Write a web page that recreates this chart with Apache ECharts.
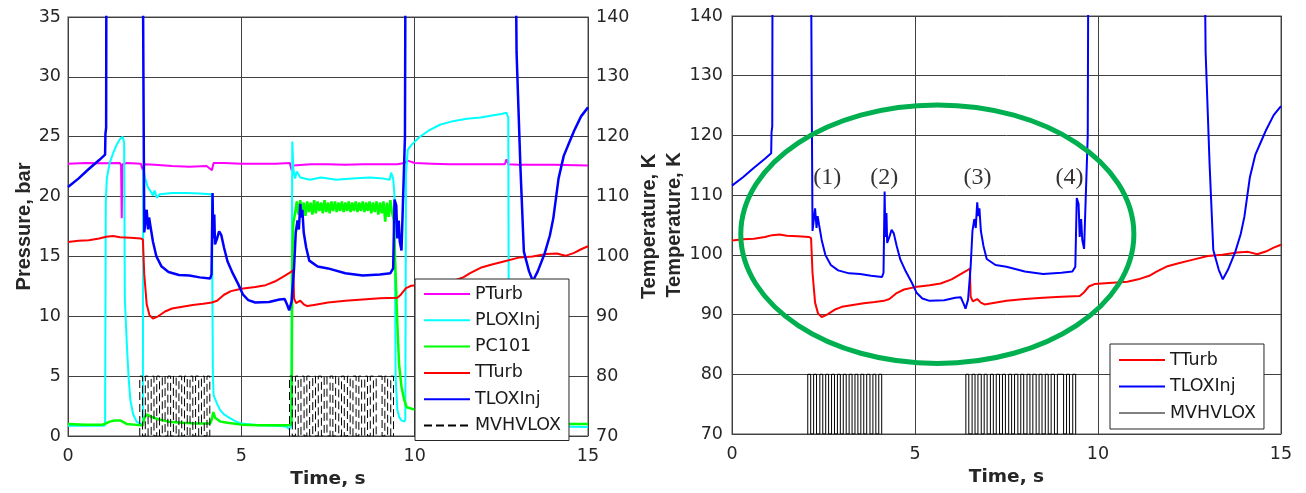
<!DOCTYPE html>
<html>
<head>
<meta charset="utf-8">
<script src="https://cdn.jsdelivr.net/npm/echarts@6/dist/echarts.min.js"></script>
<style>
  html, body { margin: 0; padding: 0; background: #fff; }
  #chart { width: 1306px; height: 493px; }
</style>
</head>
<body>
<div id="chart"></div>
<script>
// time axis ticks
const timeTicks = [0, 5, 10, 15];

// pressure traces, bar  [t, value]
const PTurb = [[0,22.75],[0.5,22.8],[1.0,22.78],[1.5,22.8],[1.53,22.6],[1.55,18.2],[1.57,22.7],[1.7,22.8],[2.1,22.75],
  [2.16,22.2],[2.2,22.7],[2.5,22.65],[3.0,22.55],[3.5,22.5],[4.0,22.55],[4.15,22.2],[4.2,22.8],[4.5,22.8],[5.0,22.75],
  [5.5,22.75],[6.0,22.75],[6.4,22.8],[6.45,22.2],[6.5,22.6],[7.0,22.7],[7.5,22.7],[8.0,22.65],[8.5,22.7],[9.0,22.7],
  [9.5,22.7],[9.7,22.8],[9.8,23.0],[10.0,22.8],[10.5,22.75],[11.0,22.7],[11.5,22.7],[12.0,22.7],[12.6,22.7],[12.65,23.1],
  [12.7,22.7],[13.0,22.65],[14.0,22.65],[15,22.6]];

const PLOXInj = [[0,0.85],[0.5,0.85],[1.0,0.85],[1.07,0.9],[1.09,19.5],[1.12,21.5],[1.2,22.8],[1.3,23.6],[1.4,24.3],
  [1.5,24.8],[1.58,25.0],[1.62,24.5],[1.64,11.4],[1.7,7.5],[1.75,4.8],[1.8,3.0],[1.88,1.8],[1.98,1.2],[2.1,1.0],[2.16,0.95],
  [2.17,22.3],[2.22,21.6],[2.3,20.8],[2.37,20.5],[2.45,20.1],[2.5,20.5],[2.56,19.9],[2.65,20.2],[3.0,20.3],[3.4,20.3],
  [3.8,20.25],[4.12,20.2],[4.15,20.0],[4.18,5.0],[4.2,3.4],[4.3,2.7],[4.38,2.2],[4.5,1.8],[4.67,1.5],[4.85,1.2],[5.0,1.05],
  [5.5,0.9],[6.0,0.85],[6.3,0.8],[6.38,0.55],[6.44,0.9],[6.47,24.6],[6.5,22.3],[6.55,21.5],[6.6,22.1],[6.7,21.6],[6.98,21.4],
  [7.3,21.6],[7.75,21.4],[8.2,21.5],[8.71,21.6],[9.1,21.5],[9.28,21.4],[9.32,22.0],[9.38,21.5],[9.42,20],[9.45,5],[9.5,2.2],
  [9.55,1.6],[9.62,1.3],[9.7,1.2],[9.73,1.4],[9.75,21.9],[9.8,23.9],[9.9,24.3],[10.15,25.0],[10.4,25.5],[10.73,26.0],
  [11.1,26.3],[11.5,26.5],[11.9,26.6],[12.27,26.8],[12.5,26.9],[12.65,27.0],[12.7,26.6],[12.72,3.0],[12.8,2.3],[12.9,1.8],
  [13.05,1.3],[13.23,1.0],[13.5,0.85],[14.0,0.8],[15,0.75]];

const PC101 = [[0,1.0],[0.5,0.95],[1.0,0.95],[1.1,1.05],[1.2,1.2],[1.35,1.3],[1.5,1.3],[1.6,1.15],[1.7,1.0],[1.9,0.95],
  [2.1,0.9],[2.16,0.9],[2.2,1.5],[2.27,1.8],[2.4,1.6],[2.6,1.4],[2.9,1.2],[3.3,1.1],[3.7,1.05],[4.1,1.05],[4.15,1.4],
  [4.19,2.0],[4.25,1.5],[4.4,1.2],[4.6,1.1],[5.0,0.95],[5.5,0.9],[6.0,0.9],[6.4,0.9],[6.45,1.2],[6.47,15],[6.5,17.8],
  [6.55,18.6],[6.6,19.6],[6.65,18.5],[6.7,19.7],[6.75,18.6],[6.8,19.5],[6.85,18.4],[6.9,19.6],[6.95,18.7],[7.0,19.5],
  [7.05,18.5],[7.1,19.7],[7.15,18.6],[7.2,19.6],[7.25,18.8],[7.3,19.5],[7.35,18.6],[7.4,19.7],[7.45,18.7],[7.5,19.5],
  [7.55,18.6],[7.6,19.6],[7.65,18.8],[7.7,19.6],[7.75,18.7],[7.8,19.5],[7.85,18.8],[7.9,19.6],[7.95,18.7],[8.0,19.5],
  [8.05,18.8],[8.1,19.6],[8.15,18.7],[8.2,19.5],[8.25,18.8],[8.3,19.6],[8.35,18.7],[8.4,19.5],[8.45,18.8],[8.5,19.6],
  [8.55,18.7],[8.6,19.5],[8.65,18.8],[8.7,19.6],[8.75,18.6],[8.8,19.5],[8.85,18.7],[8.9,19.6],[8.95,18.5],[9.0,19.5],
  [9.05,18.6],[9.1,19.6],[9.15,17.9],[9.2,19.5],[9.25,18.3],[9.3,19.7],[9.35,18.6],[9.4,18.0],[9.45,13.6],[9.5,9.4],
  [9.55,6.0],[9.62,4.1],[9.7,3.0],[9.77,2.4],[10.0,2.2],[10.5,1.9],[11.2,1.6],[12.0,1.4],[12.75,1.3],[12.94,1.06],
  [13.5,1.0],[15,1.0]];

// temperature traces, K  [t, value]
const TTurb = [[0,102.4],[0.3,102.6],[0.6,102.7],[0.9,103.0],[1.1,103.3],[1.3,103.4],[1.5,103.2],[1.8,103.1],[2.1,103.0],
  [2.16,102.8],[2.2,97],[2.27,92],[2.35,90.2],[2.45,89.6],[2.6,90.0],[2.8,90.8],[3.0,91.3],[3.3,91.6],[3.6,91.9],[3.9,92.1],
  [4.15,92.3],[4.3,92.6],[4.5,93.6],[4.7,94.2],[5.0,94.6],[5.4,94.9],[5.7,95.2],[6.0,95.9],[6.2,96.6],[6.4,97.3],[6.5,97.7],
  [6.52,93],[6.58,92.2],[6.7,92.6],[6.8,92.0],[6.9,91.7],[7.1,91.9],[7.5,92.3],[8.0,92.6],[8.5,92.8],[9.0,93.0],[9.5,93.1],
  [9.6,93.6],[9.75,94.7],[9.9,95.1],[10.3,95.3],[10.8,95.5],[11.1,95.9],[11.4,96.5],[11.6,97.2],[11.9,98.1],[12.2,98.6],
  [12.6,99.2],[13.0,99.8],[13.4,100.0],[13.8,100.4],[14.1,100.5],[14.35,100.1],[14.6,100.6],[14.8,101.2],[15,101.7]];

const TLOXInj = [[0,111.6],[0.3,113.0],[0.6,114.6],[0.9,116.1],[1.07,117.0],[1.08,120.5],[1.1,121.5],[1.11,160],[2.15,160],
  [2.18,125],[2.2,104],[2.23,103.8],[2.27,107.8],[2.31,104.5],[2.34,106.5],[2.38,105],[2.45,102.5],[2.55,100],[2.7,98.3],
  [2.9,97.4],[3.2,96.9],[3.5,96.8],[3.8,96.5],[4.1,96.3],[4.14,97],[4.17,110.6],[4.19,103],[4.22,107],[4.24,102],[4.3,103],
  [4.36,104.2],[4.42,103.6],[4.5,101.5],[4.6,99.2],[4.75,97.2],[4.9,95.5],[5.05,93.6],[5.2,92.7],[5.4,92.3],[5.8,92.4],
  [6.1,92.8],[6.25,92.9],[6.33,91.8],[6.38,91.0],[6.45,92.5],[6.52,98],[6.57,104],[6.62,106],[6.66,104.5],[6.7,108.8],
  [6.73,106.5],[6.76,107.8],[6.8,104],[6.87,101.5],[6.96,99.3],[7.2,98.3],[7.5,98.0],[8.0,97.2],[8.5,96.8],[9.0,97.0],
  [9.3,97.2],[9.38,98],[9.42,109.5],[9.47,108.5],[9.5,103],[9.54,106],[9.57,102.5],[9.62,101],[9.67,100.8],[9.72,120],
  [9.74,160],[12.9,160],[12.94,134],[13.05,115],[13.15,100.8],[13.3,97.5],[13.41,95.9],[13.55,97.5],[13.75,100.5],
  [13.9,103.5],[14.0,106.4],[14.15,113],[14.3,116.8],[14.45,118.9],[14.6,121],[14.8,123.4],[15,124.9]];

// valve MVHVLOX switching edges, s
const valveEdgesA = [2.07,2.15,2.23,2.31,2.40,2.48,2.56,2.64,2.72,2.80,2.88,2.96,3.04,3.12,3.20,3.28,3.36,3.44,
  3.52,3.60,3.68,3.77,3.85,3.93,4.01,4.09];
const valveEdgesB = [6.39,6.47,6.56,6.64,6.72,6.81,6.89,6.97,7.06,7.14,7.22,7.31,7.39,7.47,7.56,7.64,7.72,7.81,
  7.89,7.97,8.06,8.14,8.22,8.31,8.39,8.47,8.56,8.64,8.72,8.81,8.89,9.06,9.14,9.22,9.31,9.39];
const valveLowP = 0, valveHighP = 5;   // bar scale
const valveLowT = 70, valveHighT = 80; // K scale

// labelled events on right plot
const eventLabels = ['(1)', '(2)', '(3)', '(4)'];
const eventTimes = [2.6, 4.16, 6.71, 9.22];
const eventTemp = 113;

// highlighted region (data units)
const ringCenter = [5.61, 103.46];
const ringRadius = [5.37, 21.64];

function valveTrace(blocks, lo, hi) {
  const pts = [];
  blocks.forEach((edges, b) => {
    if (b > 0) pts.push([edges[0], '-']);
    edges.forEach((t, i) => {
      if (i % 2 === 0) pts.push([t, lo], [t, hi]);
      else pts.push([t, hi], [t, lo]);
    });
  });
  return pts;
}

const chart = echarts.init(document.getElementById('chart'));

const tickFont = { fontFamily: 'DejaVu Sans', fontSize: 17.5, color: '#262626' };
const nameFontH = { fontFamily: 'DejaVu Sans', fontWeight: 'bold', fontSize: 18.5, color: '#262626' };
const nameFontV = { fontFamily: 'Liberation Sans', fontWeight: 'bold', fontSize: 20, color: '#262626' };
const gridLine = { show: true, lineStyle: { color: '#404040', width: 1 } };

function xAx(idx) {
  return {
    type: 'value', gridIndex: idx, min: 0, max: 15, interval: 5,
    name: 'Time, s', nameLocation: 'middle', nameGap: 34, nameTextStyle: nameFontH,
    axisLine: { show: false }, axisTick: { show: false },
    axisLabel: Object.assign({ margin: 11 }, tickFont),
    splitLine: gridLine
  };
}

function lineSeries(name, data, color, x, y, extra) {
  return Object.assign({
    type: 'line', name: name, data: data, xAxisIndex: x, yAxisIndex: y,
    symbol: 'none', animation: false, clip: true,
    lineStyle: { color: color, width: 2 }, itemStyle: { color: color }
  }, extra || {});
}

const legendBase = {
  orient: 'vertical', itemWidth: 46, itemHeight: 14,
  backgroundColor: '#fff', borderColor: '#262626', borderWidth: 1,
  itemStyle: { opacity: 0 },
  textStyle: { fontFamily: 'DejaVu Sans', fontSize: 17.5, color: '#1a1a1a' }
};

const option = {
  animation: false,
  backgroundColor: '#fff',
  grid: [
    { left: 68, top: 17, width: 520, height: 419, show: true, borderColor: '#8c8c8c', borderWidth: 1.5, outerBoundsMode: 'none' },
    { left: 732, top: 16, width: 549, height: 418, show: true, borderColor: '#8c8c8c', borderWidth: 1.5, outerBoundsMode: 'none' }
  ],
  xAxis: [xAx(0), xAx(1)],
  yAxis: [
    { type: 'value', gridIndex: 0, min: 0, max: 35, interval: 5, position: 'left',
      name: 'Pressure, bar', nameLocation: 'middle', nameGap: 34, nameTextStyle: nameFontV,
      axisLine: { show: false }, axisTick: { show: false },
      axisLabel: Object.assign({ margin: 7 }, tickFont), splitLine: gridLine },
    { type: 'value', gridIndex: 0, min: 70, max: 140, interval: 10, position: 'right',
      name: 'Temperature, K', nameLocation: 'middle', nameGap: 51, nameTextStyle: nameFontV,
      axisLine: { show: false }, axisTick: { show: false },
      axisLabel: Object.assign({ margin: 8 }, tickFont), splitLine: { show: false } },
    { type: 'value', gridIndex: 1, min: 70, max: 140, interval: 10, position: 'left',
      name: 'Temperature, K', nameLocation: 'middle', nameGap: 48, nameTextStyle: nameFontV,
      axisLine: { show: false }, axisTick: { show: false },
      axisLabel: Object.assign({ margin: 9 }, tickFont), splitLine: gridLine }
  ],
  legend: [
    Object.assign({}, legendBase, { left: 415, top: 279, itemGap: 8.3, padding: [6, 8, 6, 8],
      data: ['PTurb', 'PLOXInj', 'PC101', 'TTurb', 'TLOXInj', 'MVHVLOX'] }),
    Object.assign({}, legendBase, { left: 1110, top: 344, itemGap: 8.5, padding: [7, 8, 7, 8],
      data: ['TTurb', 'TLOXInj', { name: 'MVHVLOX', lineStyle: { type: 'solid', width: 1, color: '#000' } }] })
  ],
  series: [
    lineSeries('PTurb', PTurb, '#ff00ff', 0, 0),
    lineSeries('PLOXInj', PLOXInj, '#00ffff', 0, 0),
    lineSeries('PC101', PC101, '#00ff00', 0, 0, { lineStyle: { color: '#00ff00', width: 2.5 } }),
    lineSeries('TTurb', TTurb, '#ff0000', 0, 1),
    lineSeries('TLOXInj', TLOXInj, '#0000ff', 0, 1, { lineStyle: { color: '#0000ff', width: 2.5 } }),
    lineSeries('MVHVLOX', valveTrace([valveEdgesA, valveEdgesB], valveLowP, valveHighP), '#000', 0, 0,
      { lineStyle: { color: '#000', width: 1, type: [8, 4] } }),

    lineSeries('TTurb', TTurb, '#ff0000', 1, 2),
    lineSeries('TLOXInj', TLOXInj, '#0000ff', 1, 2),
    lineSeries('MVHVLOX', valveTrace([valveEdgesA, valveEdgesB], valveLowT, valveHighT), '#000', 1, 2,
      { lineStyle: { color: '#000', width: 1 } }),
    { type: 'scatter', name: 'events', xAxisIndex: 1, yAxisIndex: 2, symbolSize: 1, silent: true,
      itemStyle: { color: 'rgba(0,0,0,0)' },
      label: { show: true, position: 'inside', formatter: p => p.name,
        fontFamily: 'Liberation Serif', fontSize: 24, color: '#000' },
      data: eventLabels.map((s, i) => ({ name: s, value: [eventTimes[i], eventTemp] })) }
  ]
};

chart.setOption(option);

// green ring around the valve events, placed through the right-plot axes
const c = chart.convertToPixel({ xAxisIndex: 1, yAxisIndex: 2 }, ringCenter);
const e = chart.convertToPixel({ xAxisIndex: 1, yAxisIndex: 2 },
  [ringCenter[0] + ringRadius[0], ringCenter[1] + ringRadius[1]]);
chart.setOption({
  graphic: [{
    type: 'ellipse', z: 100, silent: true,
    shape: { cx: c[0], cy: c[1], rx: Math.abs(e[0] - c[0]), ry: Math.abs(e[1] - c[1]) },
    style: { fill: null, stroke: '#00b050', lineWidth: 5 }
  }]
});
</script>
</body>
</html>
